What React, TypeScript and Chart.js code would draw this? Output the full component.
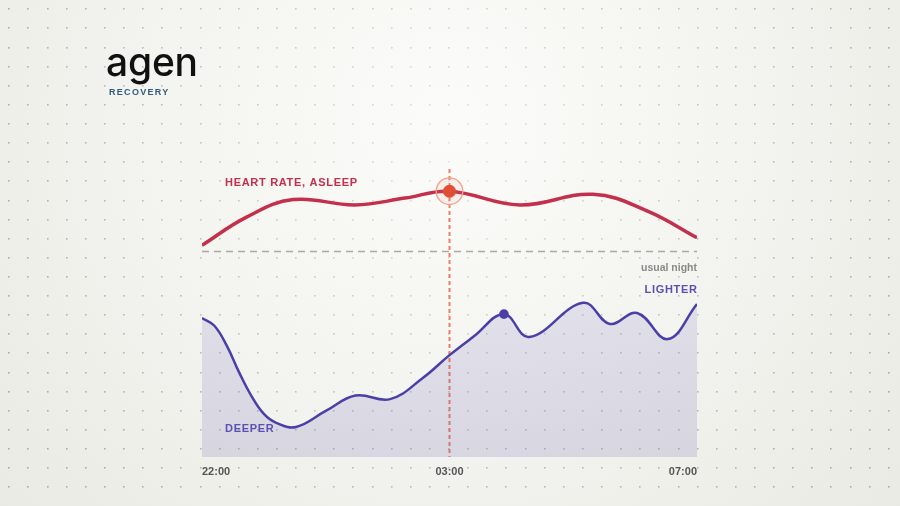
import React, { useEffect, useRef } from "react";
import { Chart, registerables } from "chart.js";
Chart.register(...registerables);

// Night progress (0 = start, 100 = end) and axis tick labels
const NIGHT_TICKS = [0, 50, 100];
const TICK_LABELS = ["22:00", "03:00", "07:00"];

// Heart rate while asleep (bpm)
const HR_PROGRESS = [0, 9, 18.4, 30.9, 41, 50, 64.2, 79, 90, 100];
const HR_BPM = [52.8, 56.5, 58.8, 58.1, 59.0, 59.9, 58.1, 59.5, 57.3, 53.8];
const USUAL_NIGHT_BPM = 52;
const HR_MARK_INDEX = 5;

// Sleep lightness (0 = deepest, 100 = lightest)
const SLEEP_PROGRESS = [0, 2.5, 5, 7.5, 10, 12.5, 15, 19, 25, 31, 38, 44.6, 50, 55, 61, 66.1, 77, 82.4, 87.9, 94.1, 100];
const SLEEP_LIGHTNESS = [46.8, 44.2, 37.5, 28.5, 20.5, 14.5, 11.5, 10.1, 15.5, 20.7, 19.5, 26.6, 34.3, 40.7, 48.1, 40.4, 51.9, 44.8, 48.5, 39.7, 51.5];
const SLEEP_MARK_INDEX = 14;

const HR_COLOR = "#c3304b";
const SLEEP_COLOR = "#4a3fa8";
const FONT = "'Liberation Sans', Arial, sans-serif";

const backgroundPlugin = {
  id: "bg",
  beforeDraw(chart: any) {
    const { ctx, width, height } = chart;
    ctx.save();
    const g = ctx.createRadialGradient(450, 120, 20, 450, 120, 600);
    g.addColorStop(0, "#fbfbf9");
    g.addColorStop(0.5, "#f3f3ef");
    g.addColorStop(1, "#eaeae4");
    ctx.fillStyle = g;
    ctx.fillRect(0, 0, width, height);
    const step = 19.12;
    for (let y = 9.3; y < height; y += step) {
      for (let x = 9.3; x < width; x += step) {
        const d = Math.hypot(x - 450, y - 150);
        const a = 0.25 + 0.5 * Math.min(1, d / 480);
        ctx.fillStyle = `rgba(150,150,145,${a.toFixed(3)})`;
        ctx.fillRect(Math.round(x) - 1, Math.round(y) - 1, 1.6, 1.6);
      }
    }
    ctx.restore();
  },
};

const overlayPlugin = {
  id: "overlay",
  beforeDatasetsDraw(chart: any) {
    const { ctx, chartArea, scales } = chart;
    const x = scales.x.getPixelForValue(HR_PROGRESS[HR_MARK_INDEX]);
    ctx.save();
    ctx.strokeStyle = "#ea7f68";
    ctx.lineWidth = 2;
    ctx.setLineDash([4, 3]);
    ctx.beginPath();
    ctx.moveTo(x, chartArea.top + 9);
    ctx.lineTo(x, chartArea.bottom);
    ctx.stroke();
    ctx.restore();
  },
  afterDraw(chart: any) {
    const { ctx, chartArea, scales } = chart;
    const usualY = scales.yHR.getPixelForValue(USUAL_NIGHT_BPM);
    ctx.save();
    ctx.textBaseline = "alphabetic";
    // Logo
    ctx.fillStyle = "#111111";
    ctx.font = "500 39px Inter, sans-serif";
    (ctx as any).letterSpacing = "-0.2px";
    ctx.textAlign = "left";
    ctx.fillText("agen", 106, 76);
    ctx.fillStyle = "#2f5c7e";
    ctx.font = `bold 9px ${FONT}`;
    (ctx as any).letterSpacing = "1.3px";
    ctx.fillText("RECOVERY", 109, 94.5);

    // Heart rate label
    ctx.fillStyle = HR_COLOR;
    ctx.font = `bold 11px ${FONT}`;
    (ctx as any).letterSpacing = "0.7px";
    ctx.fillText("HEART RATE, ASLEEP", chartArea.left + 23, 185.7);

    // Usual night
    ctx.textAlign = "right";
    ctx.fillStyle = "#8a8a88";
    ctx.font = `bold 10.5px ${FONT}`;
    (ctx as any).letterSpacing = "0px";
    ctx.fillText("usual night", chartArea.right, usualY + 19.2);

    // Lighter / Deeper
    ctx.fillStyle = "#5a4fb3";
    ctx.font = `bold 11px ${FONT}`;
    (ctx as any).letterSpacing = "0.7px";
    ctx.fillText("LIGHTER", chartArea.right + 0.7, 293.3);
    ctx.textAlign = "left";
    ctx.fillText("DEEPER", chartArea.left + 23, 432);
    ctx.restore();
  },
};

export default function App() {
  const ref = useRef<HTMLCanvasElement | null>(null);
  useEffect(() => {
    if (!ref.current) return;
    const hrData = HR_PROGRESS.map((x, i) => ({ x, y: HR_BPM[i] }));
    const sleepData = SLEEP_PROGRESS.map((x, i) => ({ x, y: SLEEP_LIGHTNESS[i] }));
    const hrMark = [{ x: HR_PROGRESS[HR_MARK_INDEX], y: HR_BPM[HR_MARK_INDEX] }];
    const sleepMark = [{ x: SLEEP_PROGRESS[SLEEP_MARK_INDEX], y: SLEEP_LIGHTNESS[SLEEP_MARK_INDEX] }];
    const usual = [
      { x: NIGHT_TICKS[0], y: USUAL_NIGHT_BPM },
      { x: NIGHT_TICKS[NIGHT_TICKS.length - 1], y: USUAL_NIGHT_BPM },
    ];
    const chart = new Chart(ref.current, {
      type: "line",
      data: {
        datasets: [
          {
            data: hrMark,
            yAxisID: "yHR",
            showLine: false,
            pointRadius: 6.5,
            pointBackgroundColor: "#e04f33",
            pointBorderWidth: 0,
          } as any,
          {
            data: hrMark,
            yAxisID: "yHR",
            showLine: false,
            pointRadius: 13.3,
            pointBackgroundColor: "rgba(240,140,120,0.10)",
            pointBorderColor: "#f2a08e",
            pointBorderWidth: 1.3,
          },
          {
            data: sleepMark,
            yAxisID: "ySleep",
            showLine: false,
            pointRadius: 4.8,
            pointBackgroundColor: SLEEP_COLOR,
            pointBorderWidth: 0,
          },
          {
            data: hrData,
            yAxisID: "yHR",
            borderColor: HR_COLOR,
            borderWidth: 3.5,
            pointRadius: 0,
            tension: 0.4,
            fill: false,
          },
          {
            data: usual,
            yAxisID: "yHR",
            borderColor: "#a9a9a7",
            borderWidth: 1.5,
            borderDash: [7, 5],
            pointRadius: 0,
            fill: false,
          },
          {
            data: sleepData,
            yAxisID: "ySleep",
            borderColor: SLEEP_COLOR,
            borderWidth: 2.5,
            pointRadius: 0,
            tension: 0.4,
            fill: "start",
            backgroundColor: (c: any) => {
              const { chart: ch } = c;
              const area = ch.chartArea;
              if (!area) return "rgba(110,95,180,0.16)";
              const g = ch.ctx.createLinearGradient(0, area.top + 130, 0, area.bottom);
              g.addColorStop(0, "rgba(115,100,185,0.15)");
              g.addColorStop(1, "rgba(105,95,170,0.19)");
              return g;
            },
          },
        ],
      },
      options: {
        animation: false,
        responsive: true,
        maintainAspectRatio: false,
        layout: { padding: { left: 202, right: 203, top: 160, bottom: 19.8 } },
        plugins: { legend: { display: false }, tooltip: { enabled: false } },
        scales: {
          x: {
            type: "linear",
            min: 0,
            max: 100,
            grid: { display: false, drawTicks: false },
            border: { display: false },
            afterBuildTicks: (axis: any) => {
              axis.ticks = NIGHT_TICKS.map((v) => ({ value: v }));
            },
            ticks: {
              align: "inner",
              padding: 8,
              color: "#555555",
              font: { family: FONT, size: 11, weight: "bold" },
              callback: (v: any) => {
                const i = NIGHT_TICKS.indexOf(Number(v));
                return i >= 0 ? TICK_LABELS[i] : "";
              },
            },
          } as any,
          yHR: { type: "linear", display: false, min: 25, max: 64 },
          ySleep: { type: "linear", display: false, min: 0, max: 100 },
        },
      },
      plugins: [backgroundPlugin, overlayPlugin],
    });
    return () => chart.destroy();
  }, []);
  return (
    <div style={{ position: "fixed", left: 0, top: 0, width: 900, height: 506 }}>
      <canvas ref={ref} />
    </div>
  );
}
